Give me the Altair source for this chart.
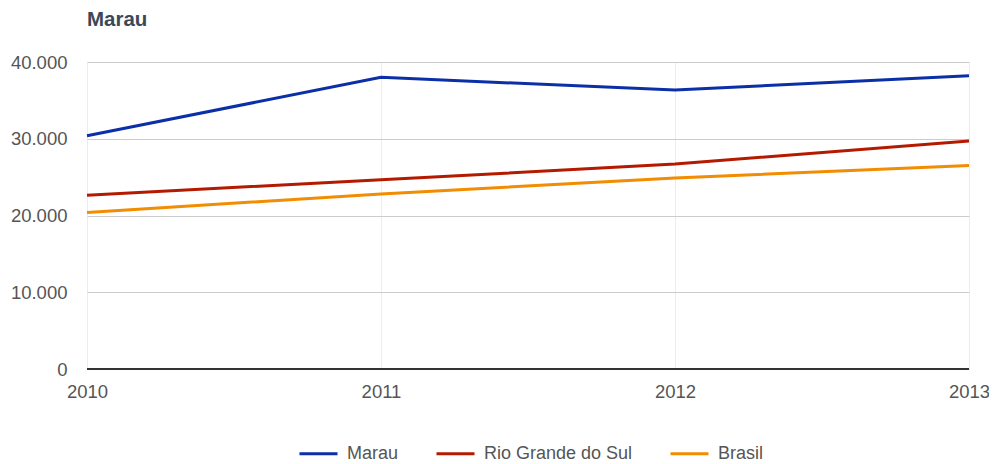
import altair as alt
import pandas as pd

years = [2010, 2011, 2012, 2013]
marau = [30400, 38000, 36350, 38200]
rio_grande_do_sul = [22650, 24650, 26700, 29700]
brasil = [20400, 22800, 24900, 26500]

series_names = ["Marau", "Rio Grande do Sul", "Brasil"]
series_colors = ["#0b2fa6", "#b41a00", "#f28c00"]

rows = []
for name, vals in zip(series_names, [marau, rio_grande_do_sul, brasil]):
    for y, v in zip(years, vals):
        rows.append({"Ano": y, "Valor": v, "Série": name})
df = pd.DataFrame(rows)

font = "Liberation Sans"

lines = alt.Chart(df).mark_line(strokeWidth=3, clip=False).encode(
    x=alt.X("Ano:Q", scale=alt.Scale(domain=[2010, 2013], nice=False, zero=False),
            axis=alt.Axis(values=years, format="d", title=None, grid=True,
                          gridColor="#ececec", gridWidth=1, domain=False, ticks=False,
                          labelFontSize=18.5, labelColor="#555555", labelFont=font,
                          labelPadding=13, labelFlush=False)),
    y=alt.Y("Valor:Q", scale=alt.Scale(domain=[0, 40000], nice=False),
            axis=alt.Axis(values=[0, 10000, 20000, 30000, 40000], title=None,
                          labelExpr="replace(format(datum.value, ','), ',', '.')",
                          gridColor="#cccccc", gridWidth=1, domain=False, ticks=False,
                          labelFontSize=18.5, labelColor="#555555", labelFont=font,
                          labelPadding=20)),
    color=alt.Color("Série:N", scale=alt.Scale(domain=series_names, range=series_colors),
                    sort=series_names,
                    legend=alt.Legend(title=None, orient="none", direction="horizontal",
                                      legendX=211, legendY=371, symbolType="stroke",
                                      symbolStrokeWidth=3, symbolSize=1444,
                                      labelFontSize=18, labelColor="#555555", labelFont=font,
                                      labelOffset=8, columnPadding=31)),
)

baseline = alt.Chart(pd.DataFrame({"v": [0]})).mark_rule(color="#333333", strokeWidth=2).encode(
    y="v:Q"
)

chart = alt.layer(lines, baseline).properties(
    width=882, height=307,
    title=alt.TitleParams("Marau", anchor="start", frame="group", fontSize=20.5,
                          fontWeight="bold", color="#3e4756", font=font, offset=23),
    autosize=alt.AutoSizeParams(type="none"),
    padding={"left": 79, "top": 54, "right": 20, "bottom": 94},
).configure_view(stroke=None)

chart.save("out.html", embed_options={"renderer": "svg", "actions": False})
